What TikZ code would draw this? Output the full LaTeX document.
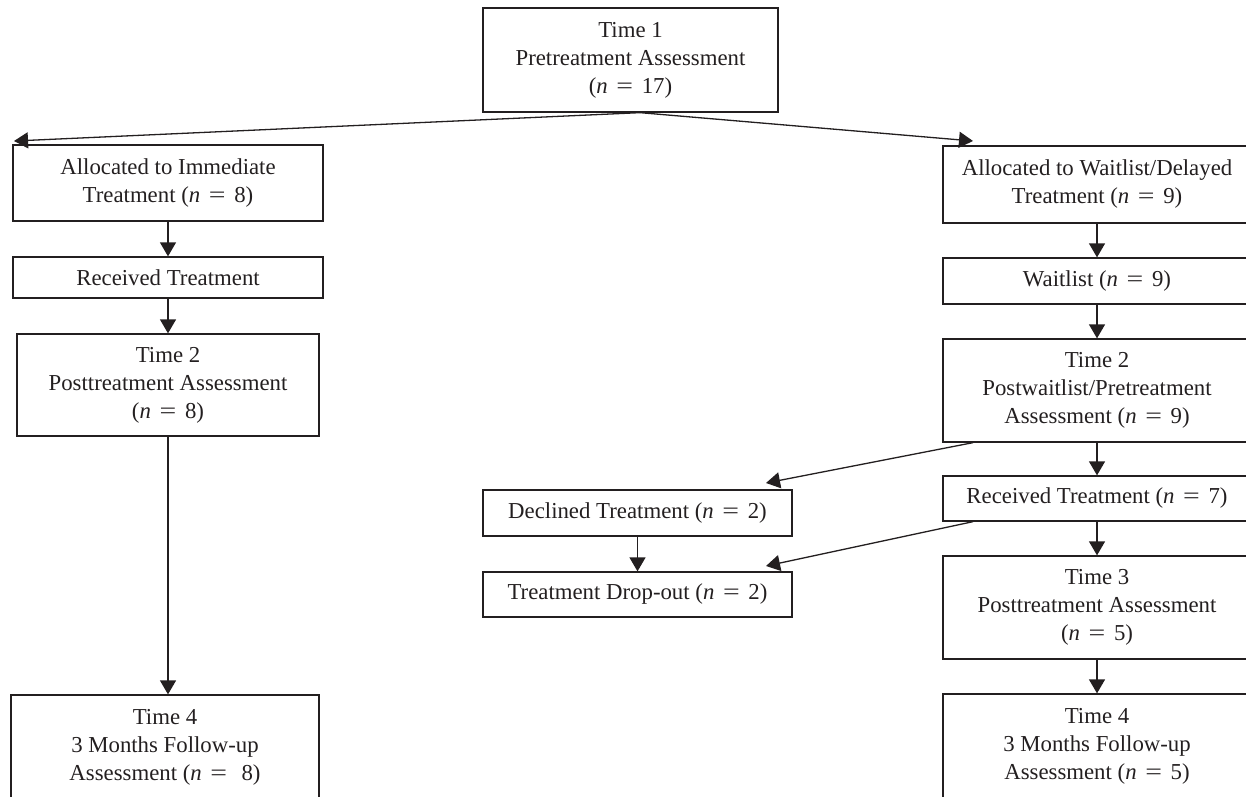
\documentclass[tikz,border=0pt]{standalone}
\usepackage{fontspec}
\usepackage{graphicx}
\setmainfont{Liberation Serif}
\usetikzlibrary{arrows.meta}
\definecolor{ink}{HTML}{231F20}
\newcommand\eqs{\hspace{0.38em}\scalebox{1.3}[1]{=}\hspace{0.38em}}
\begin{document}
\begin{tikzpicture}[x=1pt,y=-1pt,
  box/.style={draw=ink, line width=1.3pt, inner sep=0pt, align=center, text=ink,
    font=\fontsize{22.8}{28}\selectfont},
  arr/.style={draw=ink, line width=1.3pt, -{Triangle[length=14pt,width=16pt]}}]
\useasboundingbox (0,0) rectangle (1246,796);
\clip (0,0) rectangle (1246,796);
% top
\node[box, minimum width=295pt, minimum height=104pt] (t1) at (630.5,60)
  {Time 1\\Pretreatment Assessment\\(\textit{n}\eqs17)};
% left column
\node[box, minimum width=310pt, minimum height=76pt] (L1) at (168,183)
  {Allocated to Immediate\\Treatment (\textit{n}\eqs8)};
\node[box, minimum width=310pt, minimum height=41pt] (L2) at (168,277.5)
  {Received Treatment};
\node[box, minimum width=302pt, minimum height=102pt] (L3) at (168,385)
  {Time 2\\Posttreatment Assessment\\(\textit{n}\eqs8)};
\node[box, minimum width=308pt, minimum height=104pt] (L4) at (165,747)
  {Time 4\\3 Months Follow-up\\Assessment (\textit{n}\eqs\ 8)};
% right column
\node[box, minimum width=308pt, minimum height=77pt] (R1) at (1097,184.5)
  {Allocated to Waitlist/Delayed\\Treatment (\textit{n}\eqs9)};
\node[box, minimum width=308pt, minimum height=46pt] (R2) at (1097,281)
  {Waitlist (\textit{n}\eqs9)};
\node[box, minimum width=308pt, minimum height=103pt] (R3) at (1097,390.5)
  {Time 2\\Postwaitlist/Pretreatment\\Assessment (\textit{n}\eqs9)};
\node[box, minimum width=308pt, minimum height=45pt] (R4) at (1097,498.5)
  {Received Treatment (\textit{n}\eqs7)};
\node[box, minimum width=308pt, minimum height=103pt] (R5) at (1097,607.5)
  {Time 3\\Posttreatment Assessment\\(\textit{n}\eqs5)};
\node[box, minimum width=308pt, minimum height=104pt] (R6) at (1097,746)
  {Time 4\\3 Months Follow-up\\Assessment (\textit{n}\eqs5)};
% middle
\node[box, minimum width=309pt, minimum height=46pt] (D) at (637.5,513)
  {Declined Treatment (\textit{n}\eqs2)};
\node[box, minimum width=309pt, minimum height=45pt] (O) at (637.5,594.5)
  {Treatment Drop-out (\textit{n}\eqs2)};
% arrow end points
\coordinate (tipL) at (14,141);
\coordinate (tipR) at (973,141);
\coordinate (tipD) at (766,483);
\coordinate (tipO) at (766,566);
% connectors
\draw[arr] ([xshift=9.5pt]t1.south) -- (tipL);
\draw[arr] ([xshift=9.5pt]t1.south) -- (tipR);
\draw[arr] (L1.south) -- (L2.north);
\draw[arr] (L2.south) -- (L3.north);
\draw[arr] (L3.south) -- (L3.south |- L4.north);
\draw[arr] (R1.south) -- (R2.north);
\draw[arr] (R2.south) -- (R3.north);
\draw[arr] (R3.south) -- (R4.north);
\draw[arr] (R4.south) -- (R5.north);
\draw[arr] (R5.south) -- (R6.north);
\draw[arr] ([xshift=-124pt]R3.south) -- (tipD);
\draw[arr] ([xshift=-124pt]R4.south) -- (tipO);
\draw[arr] (D.south) -- (O.north);
\end{tikzpicture}
\end{document}
